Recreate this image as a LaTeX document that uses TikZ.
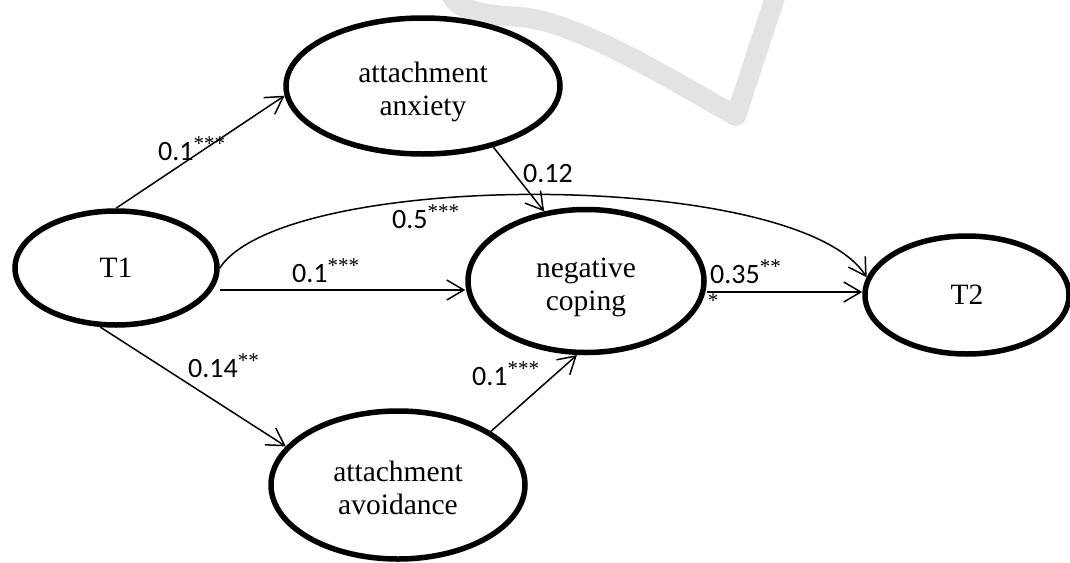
\documentclass[tikz,border=0pt]{standalone}
\usepackage{fontspec}
\setmainfont{Liberation Serif}
\newfontfamily\coeffont{Carlito}
\usepackage{tikz}
\usetikzlibrary{arrows.meta, shapes, positioning, calc}
\newcommand{\sig}[1]{\raisebox{10pt}{\fontsize{21}{21}\selectfont\rmfamily #1}}
\tikzset{
  var/.style={ellipse, draw, line width=5.5pt, inner sep=0pt, align=center,
              font=\fontsize{29.5}{33}\selectfont, text depth=0pt},
  two/.style={text height=58pt},
  coef/.style={anchor=base west, inner sep=0pt, font=\coeffont\fontsize{28}{28}\selectfont},
  lone/.style={anchor=base, inner sep=0pt, font=\fontsize{21}{21}\selectfont},
  arc/.style={-{Straight Barb[length=17pt, width=20pt]}, line width=1.5pt},
  wmark/.style={line width=20pt, black!11, line join=round}
}

\begin{document}
\begin{tikzpicture}[x=1pt, y=-1pt]
    \useasboundingbox (0,0) rectangle (1070,562);
    \draw[wmark] (449,-10) .. controls (455,8) and (470,14) .. (520,17)
      .. controls (580,22) and (680,85) .. (736,116) -- (778,-12);

    \node[var, minimum width=202pt, minimum height=114pt] (t1) at (116,268) {T1};
    \node[var, two, minimum width=274pt, minimum height=136pt] (anx) at (423,86) {attachment\\anxiety};
    \node[var, two, minimum width=236pt, minimum height=143pt] (neg) at (586,281) {negative\\coping};
    \node[var, minimum width=204pt, minimum height=118pt] (t2) at (967,295) {T2};
    \node[var, two, minimum width=254pt, minimum height=148pt] (avo) at (398,485) {attachment\\avoidance};

    \coordinate (s1) at ($(t1.east)+(0,22)$);
    \coordinate (s2) at ($(neg.east)+(0,11)$);
    \draw[arc] (t1.north) -- (anx.184);
    \draw[arc] (anx.-41) -- (neg.121);
    \draw[arc] (s1) -- (s1 -| neg.west);
    \draw[arc] (t1.east) .. controls +(65,-99) and +(-69,-109) .. (t2.170);
    \draw[arc] (s2) -- (s2 -| t2.west);
    \draw[arc] (t1.-105) -- (avo.161);
    \draw[arc] (avo.30) -- (neg.-97);

    \node[coef] (c1) at (158,160) {0.1\sig{***}};
    \node[coef] (c2) at (523,182) {0.12};
    \node[coef] (c3) at (392,228) {0.5\sig{***}};
    \node[coef] (c4) at (292,282) {0.1\sig{***}};
    \node[coef] (c5) at (710,283) {0.35\sig{**}};
    \node[lone] (c5x) at (713,307) {*};
    \node[coef] (c6) at (188,377) {0.14\sig{**}};
    \node[coef] (c7) at (472,385) {0.1\sig{***}};
\end{tikzpicture}
\end{document}
